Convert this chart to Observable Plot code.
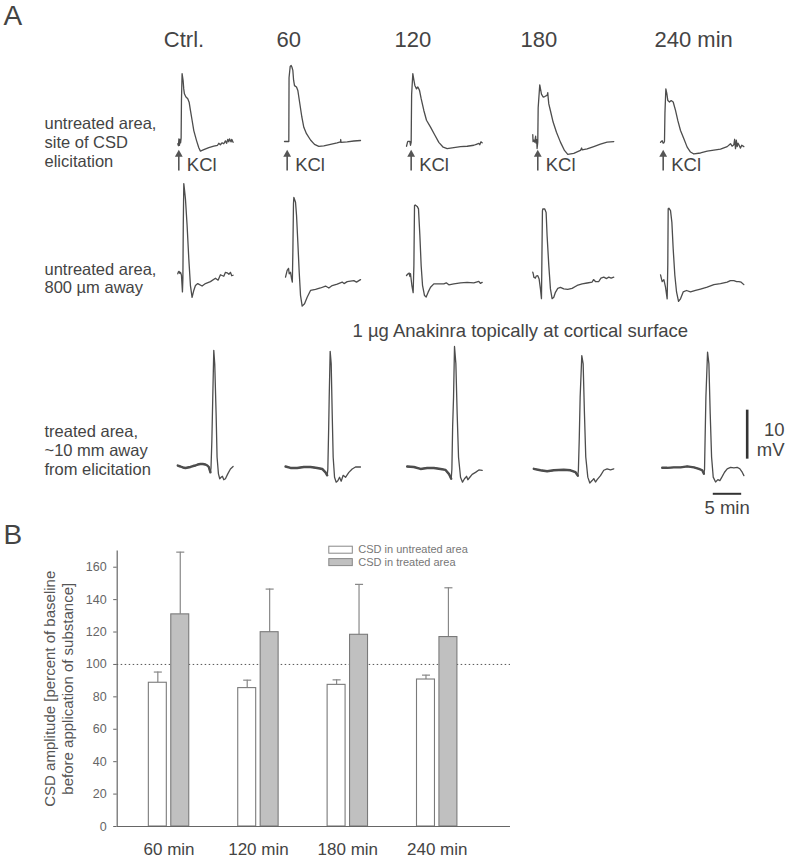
<!DOCTYPE html>
<html><head><meta charset="utf-8">
<script src="https://cdn.jsdelivr.net/npm/d3@7"></script>
<script src="https://cdn.jsdelivr.net/npm/@observablehq/plot@0.6"></script>
<style>
body{margin:0;background:#fff;}
#wrap{position:relative;width:787px;height:860px;overflow:hidden;font-family:"Liberation Sans",Arial,Helvetica,sans-serif;}
#a{position:absolute;left:0;top:0}
#b{position:absolute;left:0;top:515px}
#legend{position:absolute;left:320px;top:540px}
</style></head><body>
<div id="wrap"><div id="a"></div><div id="b"></div><div id="legend"></div></div>
<script>
const FONT = '"Liberation Sans", Arial, Helvetica, sans-serif';

// ---------- Panel A: labels ----------
const columnLabels = ["Ctrl.", "60", "120", "180", "240 min"];
const rowLabels = ["untreated area,\nsite of CSD\nelicitation", "untreated area,\n800 µm away", "treated area,\n~10 mm away\nfrom elicitation"];
const treatmentLabel = "1 µg Anakinra topically at cortical surface";
const stimulusLabel = "KCl";
const scaleBarMV = 10;   // mV
const scaleBarMin = 5;   // min

// ---------- Panel A: traces [time from trace start (min), mV relative to trace baseline] ----------
// row 1: untreated area, site of CSD elicitation
const siteCtrl = [[0,0],[0.12,-0.4],[0.2,1.0],[0.3,-0.3],[0.4,0.9],[0.5,0.2],[0.59,1.2],[0.65,9],[0.76,14.3],[0.85,13.6],[0.94,12.9],[1.05,11.2],[1.17,10.2],[1.41,9.6],[1.76,9.2],[2.0,8.5],[2.23,6.8],[2.52,4.8],[2.82,2.7],[3.29,0.7],[3.7,-0.8],[3.99,-1.5],[4.58,-1.2],[5.46,-0.8],[6.34,-0.5],[7.0,-0.3],[7.22,0.1],[7.5,-0.2],[7.81,0.2],[8.1,0.0],[8.39,0.6],[8.6,0.1],[8.8,0.9],[8.98,0.4],[9.1,1.0],[9.39,0.4],[9.5,0.9],[9.74,0.3]];
const site60 = [[0,0],[0.65,0],[0.76,0],[0.8,13],[1.0,15.3],[1.17,15.5],[1.3,15.2],[1.47,14.5],[1.6,12.5],[1.76,11.4],[2.11,11.1],[2.35,10.4],[2.7,7.7],[3.05,5.0],[3.4,2.9],[3.87,1.6],[4.58,0.3],[5.28,-0.6],[6.04,-1.0],[6.92,-0.9],[8.1,-0.6],[9.27,-0.3],[9.86,-0.1],[9.9,0.4],[9.95,-0.2],[11.03,-0.1],[12.21,0.1],[13.38,0.2]];
const site120 = [[0,-0.5],[0.15,0.2],[0.23,0.5],[0.59,0.5],[0.7,-0.3],[0.82,0.3],[0.9,10],[1.11,14.3],[1.3,13],[1.47,11.9],[1.76,11.2],[2.0,11.6],[2.29,10.9],[2.58,9.2],[3.05,6.8],[3.52,4.8],[4.23,3.4],[4.93,1.9],[5.69,0.3],[6.46,-0.7],[7.16,-1.0],[8.33,-0.8],[9.51,-0.6],[10.68,-0.5],[11.85,-0.3],[12.3,-0.1],[12.73,0.1],[12.9,-0.2],[13.1,0.4],[13.32,0.2]];
const site180 = [[0,0.5],[0.05,-0.9],[0.18,-0.6],[0.35,-1.0],[0.5,0.2],[0.59,-1.2],[0.7,-0.5],[0.76,-2.3],[0.88,-1.0],[0.95,6],[1.23,10.7],[1.53,8.8],[1.82,8.2],[2.11,8.3],[2.41,8.5],[2.55,8.6],[2.64,9.1],[2.7,8.2],[2.82,6.8],[3.11,5.4],[3.58,3.1],[4.17,1.0],[4.87,-1.0],[5.58,-2.7],[6.16,-3.5],[7.22,-3.3],[8.39,-2.7],[8.6,-2.2],[8.7,-2.6],[9.57,-2.4],[10.74,-1.9],[11.91,-1.4],[13.09,-1.0],[14.26,-0.9]];
const site240 = [[0,0],[0.29,0.3],[0.47,-0.2],[0.6,-0.1],[0.7,0.2],[0.78,6],[0.94,10.9],[1.1,10],[1.29,8.5],[1.58,8.2],[1.88,8.5],[2.23,8.2],[2.64,6.5],[3.05,4.4],[3.52,2.4],[4.11,0.7],[4.69,-1.0],[5.28,-2.0],[5.87,-2.4],[7.04,-2.2],[8.22,-1.8],[9.39,-1.6],[10.56,-1.4],[11.74,-0.9],[12.32,-0.3],[12.6,-0.8],[12.91,-0.5],[13.05,0.6],[13.2,-1.3],[13.35,0.4],[13.5,-0.9],[13.65,-0.2],[13.79,-0.5],[14.08,-1.2],[14.3,-0.6],[14.67,-0.9]];
// row 2: untreated area, 800 µm away
const nearCtrl = [[0,0],[0.12,0.4],[0.23,0.5],[0.35,0.1],[0.47,0.3],[0.65,-0.3],[0.82,-3.7],[0.9,-1],[0.97,10],[1.06,18.4],[1.17,17.3],[1.35,15.3],[1.64,9.9],[1.94,3.1],[2.23,-2.4],[2.52,-4.8],[2.82,-3.4],[3.11,-2.4],[3.52,-2.0],[4.28,-2.5],[4.87,-2.0],[5.75,-1.6],[6.63,-0.9],[7.1,-1.3],[7.51,-0.2],[8.1,-0.5],[8.4,0.3],[8.69,0.2],[9.0,-0.1],[9.27,0.3],[9.5,-0.4],[9.74,-0.3]];
const near60 = [[0,0],[0.29,1.4],[0.53,1.8],[0.65,0.7],[0.88,1.0],[1.06,-0.3],[1.2,-1.0],[1.29,5],[1.4,15],[1.47,16.3],[1.76,15.3],[1.94,12.6],[2.17,7.1],[2.41,1.0],[2.64,-3.7],[2.93,-5.9],[3.35,-5.4],[3.81,-4.1],[4.4,-2.7],[5.28,-2.5],[6.16,-2.2],[7.04,-1.8],[7.63,-2.2],[8.22,-1.7],[9.1,-1.4],[9.98,-1.0],[10.3,-1.3],[10.86,-0.9],[12.03,-0.7],[12.5,-1.0],[13.2,-0.5]];
const near120 = [[0,0],[0.23,0.3],[0.47,0.5],[0.6,-0.2],[0.7,0.4],[0.94,-2.0],[1.17,-3.5],[1.3,2],[1.41,14.3],[1.53,14.4],[1.88,14.1],[2.11,13.6],[2.35,8.2],[2.58,2.0],[2.82,-2.0],[3.17,-4.1],[3.46,-4.4],[3.81,-3.4],[4.23,-2.4],[4.81,-1.7],[5.69,-1.7],[6.57,-1.7],[7.0,-1.5],[7.45,-1.9],[8.33,-1.7],[9.51,-1.5],[10.68,-1.4],[11.85,-1.5],[12.73,-1.2],[13.0,-1.6],[13.32,-1.4]];
const near180 = [[0,0],[0.1,-0.4],[0.18,-1.0],[0.47,-1.2],[0.6,-0.8],[0.88,-0.7],[1.12,-1.4],[1.35,-3.4],[1.53,-5.4],[1.6,2],[1.7,12.5],[1.76,12.9],[2.11,12.9],[2.35,12.2],[2.52,7.5],[2.82,1.4],[3.11,-3.4],[3.4,-5.4],[3.7,-5.1],[3.99,-4.1],[4.4,-3.3],[4.87,-3.1],[5.46,-3.4],[6.16,-3.5],[6.92,-3.3],[7.81,-2.7],[8.69,-2.4],[9.57,-2.2],[10.45,-2.0],[10.7,-1.5],[11.03,-1.9],[11.62,-1.9],[12.0,-1.2],[12.5,-1.0],[13.0,-1.3],[13.38,-1.0],[13.8,-1.2],[14.26,-1.0]];
const near240 = [[0,0],[0.29,-1.4],[0.59,-1.0],[0.88,-2.5],[1.17,-4.9],[1.28,2],[1.35,13.5],[1.47,13.6],[1.76,13.1],[2.0,10.7],[2.23,5.3],[2.52,-0.1],[2.82,-3.5],[3.17,-5.4],[3.52,-4.9],[3.99,-3.5],[4.58,-3.2],[5.28,-3.5],[6.16,-3.2],[7.04,-2.9],[8.22,-2.5],[9.39,-2.0],[10.56,-1.8],[11.74,-1.5],[12.3,-1.2],[12.91,-1.2],[13.4,-1.4],[13.79,-1.4],[14.2,-1.5],[14.67,-2.0]];
// row 3: treated area, ~10 mm away from elicitation
const treatedCtrl = [[0,0],[0.47,-0.2],[0.9,-0.4],[1.35,-0.5],[1.8,-0.4],[2.23,-0.3],[2.7,-0.1],[3.11,0],[3.5,0.2],[3.99,0.3],[4.4,0.3],[4.87,0.2],[5.2,0],[5.46,-0.3],[5.75,-1.4],[5.85,-0.5],[6.0,5],[6.16,13.9],[6.34,23.5],[6.51,20.7],[6.75,10.5],[6.92,1.7],[7.16,-1.7],[7.39,-2.7],[7.63,-2.4],[7.86,-2.2],[8.1,-2.9],[8.39,-2.7],[8.8,-1.7],[9.27,-0.7],[9.74,-0.2]];
const treated60 = [[0,0],[0.88,-0.3],[2.05,-0.3],[3.23,-0.1],[4.4,-0.1],[5.58,-0.3],[6.46,-0.5],[7.04,-1.2],[7.34,-1.8],[7.45,-0.5],[7.6,8],[7.69,14.1],[7.86,23.5],[8.04,21.0],[8.22,10.7],[8.39,1.9],[8.63,-2.2],[8.92,-3.2],[9.21,-2.9],[9.51,-2.2],[9.8,-3.0],[10.15,-1.8],[10.56,-2.2],[11.15,-1.2],[11.74,-0.5],[12.32,-0.1],[12.91,-0.1],[13.2,-0.1]];
const treated120 = [[0,0],[1.17,-0.1],[2.35,-0.5],[3.52,-0.3],[4.69,-0.3],[5.87,-0.5],[6.75,-0.7],[7.34,-1.5],[7.75,-2.5],[7.87,-0.5],[8.0,8],[8.16,14.1],[8.33,24.5],[8.57,21.0],[8.8,10.7],[9.04,1.9],[9.39,-2.2],[9.74,-3.2],[10.09,-2.5],[10.45,-2.0],[10.68,-2.7],[11.03,-2.2],[11.44,-1.6],[12.03,-1.2],[12.62,-0.7],[13.2,-0.8]];
const treated180 = [[0,0],[1.17,-0.3],[2.35,-0.5],[3.52,-0.3],[5.28,-0.2],[6.46,-0.3],[7.34,-0.7],[7.75,-1.4],[7.85,-0.3],[8.0,6],[8.16,14.6],[8.45,23.1],[8.69,21.4],[8.92,11.2],[9.15,2.4],[9.51,-1.7],[9.86,-2.9],[10.27,-2.4],[10.56,-2.0],[10.86,-2.7],[11.15,-2.2],[11.74,-1.4],[12.32,-0.3],[12.91,0],[13.5,-0.2],[14.08,0]];
const treated240 = [[0,0],[0.88,0],[2.05,0.1],[3.23,0.1],[4.4,0.3],[5.58,0.1],[6.46,-0.2],[7.04,-0.5],[7.34,-1.2],[7.45,-0.3],[7.55,6],[7.69,14.4],[7.98,23.6],[8.22,21.2],[8.45,11.0],[8.69,2.2],[8.98,-1.9],[9.39,-2.9],[9.8,-2.4],[10.15,-2.6],[10.5,-1.9],[10.97,-0.9],[11.44,-0.2],[12.03,0.1],[12.62,0],[13.2,0.1],[13.67,-0.2],[14.08,-0.9],[14.38,-1.6]];

// ---------- Panel A layout (where each trace sits on the shared min / mV canvas) ----------
const traceStartMin = [[31.21, 50.0, 71.48, 93.71, 116.2], [31.21, 50.18, 71.48, 93.71, 116.2], [31.21, 50.18, 71.6, 93.89, 116.5]];
const traceBaseMV = [[75.86, 76.33, 75.86, 77.2, 76.18], [49.33, 48.63, 48.98, 49.65, 49.12], [10.2, 10.0, 10.0, 9.53, 9.73]];
const kclTimeMin = [0.18, 0.47, 0.82, 0.88, 0.47];
const kclRowBaseMV = 76.3;

// ---------- Panel B data ----------
const groups = ["60 min", "120 min", "180 min", "240 min"];
const series = ["CSD in untreated area", "CSD in treated area"];
const untreatedMean = [88.7, 85.4, 87.4, 90.7];
const untreatedSD = [6.6, 4.9, 3.1, 2.7];
const treatedMean = [130.9, 119.9, 118.3, 116.9];
const treatedSD = [38.4, 26.6, 31.1, 30.4];
const yTicks = [0, 20, 40, 60, 80, 100, 120, 140, 160];
const baselineLevel = 100;
const yTitle = "CSD amplitude [percent of baseline\nbefore application of substance]";

// ================= Panel A =================
const traceRows = [
  [siteCtrl, site60, site120, site180, site240],
  [nearCtrl, near60, near120, near180, near240],
  [treatedCtrl, treated60, treated120, treated180, treated240]
];
const pts = [];
const prePts = []; // noisy pre-spike baseline of the treated-area recordings (drawn thicker)
traceRows.forEach((row, r) => row.forEach((tr, c) => {
  const peak = d3.maxIndex(tr, p => p[1]);
  tr.forEach(([t, v], k) => {
    const p = {id: r * 5 + c, x: traceStartMin[r][c] + t, y: traceBaseMV[r][c] + v};
    pts.push(p);
    if (r === 2 && k < peak - 3) prePts.push(p);
  });
}));

const kcl = kclTimeMin.map((t, c) => ({
  x: traceStartMin[0][c] + t,
  y1: kclRowBaseMV - 5.9,
  yh: kclRowBaseMV - 2.6
}));

const scaleV = [{x: 131.46, y1: 11.6, y2: 11.6 + scaleBarMV}];
const scaleH = [{x1: 125.4, x2: 125.4 + scaleBarMin, y: 4.43}];

const TXT = "#444";
function label(text, x, y, size, opts = {}) {
  return Plot.text([text], {
    text: d => d, frameAnchor: "top-left", dx: x, dy: y,
    textAnchor: "start", lineAnchor: "bottom", fontSize: size, fill: TXT, ...opts
  });
}
const headerX = [163.3, 276, 394, 520, 654];
const rowLabelBase = [166, 292.7, 474];

const plotA = Plot.plot({
  width: 787, height: 515,
  marginTop: 0, marginRight: 0, marginBottom: 0, marginLeft: 0,
  x: {domain: [0, 138.556], axis: null},
  y: {domain: [0, 515 / 4.9], axis: null},
  style: {fontFamily: FONT, background: "transparent", overflow: "visible"},
  marks: [
    Plot.line(pts, {x: "x", y: "y", z: "id", stroke: "#4d4d4d", strokeWidth: 1.3, strokeLinejoin: "round"}),
    Plot.line(prePts, {x: "x", y: "y", z: "id", stroke: "#4d4d4d", strokeWidth: 2.4, strokeLinejoin: "round"}),
    Plot.link(kcl, {x1: "x", x2: "x", y1: "y1", y2: "yh", stroke: "#555", strokeWidth: 1.6}),
    Plot.dot(kcl, {x: "x", y: "yh", symbol: "triangle", r: 2.9, fill: "#555", stroke: null}),
    Plot.text(kcl, {x: "x", y: "y1", text: () => stimulusLabel, dx: 8, textAnchor: "start", lineAnchor: "bottom", fontSize: 18.5, fill: TXT}),
    Plot.link(scaleV, {x1: "x", x2: "x", y1: "y1", y2: "y2", stroke: "#333", strokeWidth: 2.6}),
    Plot.link(scaleH, {x1: "x1", x2: "x2", y1: "y", y2: "y", stroke: "#333", strokeWidth: 2}),
    label("A", 3, 24, 28),
    ...columnLabels.map((t, i) => label(t, headerX[i], 46, 22)),
    ...rowLabels.map((t, i) => label(t, 44, rowLabelBase[i], 16.5, {lineHeight: 1.13})),
    label(treatmentLabel, 352, 336, 18.5),
    label(scaleBarMV + "\nmV", 784, 455, 18.5, {textAnchor: "end", lineHeight: 1.03}),
    label(scaleBarMin + " min", 704, 513, 18.5)
  ]
});
document.getElementById("a").append(plotA);

// ================= Panel B =================
const barW = 0.201, gap = 0.025;
const bars = [];
groups.forEach((g, i) => {
  bars.push({i, series: series[0], value: untreatedMean[i], sd: untreatedSD[i], x1: i - gap - barW, x2: i - gap});
  bars.push({i, series: series[1], value: treatedMean[i], sd: treatedSD[i], x1: i + gap, x2: i + gap + barW});
});
bars.forEach(d => { d.xc = (d.x1 + d.x2) / 2; d.top = d.value + d.sd; });
const capHalf = 0.045;

const plotB = Plot.plot({
  width: 787, height: 345,
  marginTop: 35.5, marginRight: 277, marginBottom: 34, marginLeft: 116.7,
  x: {domain: [-0.58, 3.82]},
  y: {domain: [0, 170]},
  color: {domain: series, range: ["#ffffff", "#c0c0c0"]},
  style: {fontFamily: FONT, background: "transparent", overflow: "visible", color: "#555"},
  marks: [
    Plot.ruleY([baselineLevel], {stroke: "#555", strokeDasharray: "1.5,2.5", strokeWidth: 1}),
    Plot.ruleX(bars, {x: "xc", y1: "value", y2: "top", stroke: "#888", strokeWidth: 1.2}),
    Plot.link(bars, {x1: d => d.xc - capHalf, x2: d => d.xc + capHalf, y1: "top", y2: "top", stroke: "#888", strokeWidth: 1.2}),
    Plot.rect(bars, {x1: "x1", x2: "x2", y1: () => 0, y2: "value", fill: "series", stroke: "#7a7a7a", strokeWidth: 1.1}),
    Plot.ruleX([-0.58], {stroke: "#666", strokeWidth: 1.2}),
    Plot.ruleY([0], {stroke: "#666", strokeWidth: 1.2}),
    Plot.axisY({ticks: yTicks, tickSize: 3.5, tickPadding: 7, fontSize: 12.5, label: null, color: "#666"}),
    Plot.axisX({ticks: [0, 1, 2, 3], tickFormat: i => groups[i], tickSize: 0, tickPadding: 16.5, fontSize: 17, label: null, color: "#444"}),
    Plot.text([yTitle], {text: d => d, frameAnchor: "left", dx: -58.5, rotate: -90, lineHeight: 1.2, fontSize: 15, fill: "#555", textAnchor: "middle", lineAnchor: "middle"}),
    Plot.text(["B"], {text: d => d, frameAnchor: "top-left", dx: 3 - 116.7, dy: 543.3 - 550.5, textAnchor: "start", lineAnchor: "bottom", fontSize: 28, fill: "#444"})
  ]
});
document.getElementById("b").append(plotB);

// ---------- legend ----------
const legendFill = ["#ffffff", "#c0c0c0"];
const leg = d3.select("#legend").append("svg").attr("width", 170).attr("height", 32)
  .style("font-family", FONT);
series.forEach((s, k) => {
  leg.append("rect").attr("x", 8.8).attr("y", 6.2 + k * 12.4).attr("width", 23.5).attr("height", 7)
    .attr("fill", legendFill[k]).attr("stroke", "#888").attr("stroke-width", 1);
  leg.append("text").attr("x", 38.3).attr("y", 13.3 + k * 12.2).attr("font-size", 11)
    .attr("fill", "#777").text(s);
});
</script>
</body></html>
